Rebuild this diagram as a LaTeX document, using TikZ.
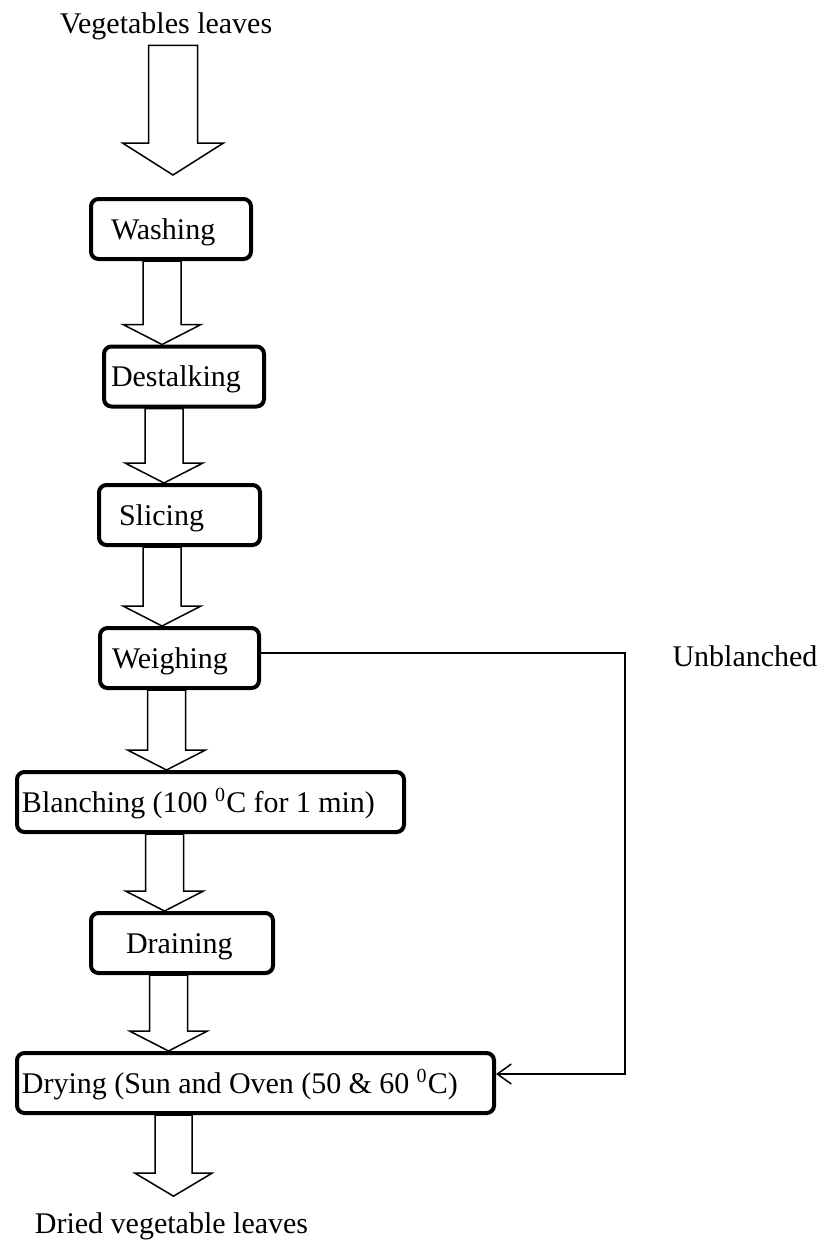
\documentclass[tikz,border=0pt,12pt]{standalone}
\usepackage{fontspec}
\setmainfont{Liberation Serif}
\usetikzlibrary{calc,arrows.meta}

% hollow block arrow: #1 top of shaft, #2 tip, #3 half shaft, #4 half head, #5 head length
\newcommand{\flow}[5]{%
  \draw[flowline] #2 coordinate (tip) -- ++(#4,-#5) -- ++({#3-#4},0) |- #1
    -- ++(-#3,0) |- ($(tip)+(-#3,-#5)$) -- ++({#3-#4},0) -- cycle;}

\begin{document}
\begin{tikzpicture}[x=0.4pt,y=-0.4pt,
		stepbox/.style={draw,line width=1.6pt,rounded corners=3pt,anchor=west,
		align=left,minimum height=24pt,text height=8pt,text depth=0pt},
		flowline/.style={line width=0.6pt,line join=miter},
		side/.style={line width=0.6pt,-{Straight Barb[length=5.6pt,width=8pt]}},
		]
		\useasboundingbox (0,0) rectangle (817,1241);

		\node[anchor=base] (veg) at (166,33) {Vegetables leaves};
		\node[stepbox,inner xsep=8pt,text width=48pt] (wash) at (89,229) {Washing};
		\node[stepbox,inner xsep=2.8pt,text width=58.4pt] (dest) at (102,376.5) {Destalking};
		\node[stepbox,inner xsep=8pt,text width=48.4pt] (slic) at (97,515) {Slicing};
		\node[stepbox,inner xsep=4.8pt,text width=54pt] (weig) at (98,658) {Weighing};
		\node[stepbox,inner xsep=2pt,text width=150.8pt] (blan) at (15,802)
			{\spaceskip=0.245em Blanching (100 \textsuperscript{0}C for 1 min)};
		\node[stepbox,inner xsep=14pt,text width=44.8pt] (drai) at (89,943) {Draining};
		\node[stepbox,inner xsep=2pt,text width=186.8pt] (dryi) at (15,1083)
			{\spaceskip=0.245em Drying (Sun and Oven (50 \& 60 \textsuperscript{0}C)};
		\node[anchor=base] (dried) at (171.5,1233) {Dried vegetable leaves};
		\node[anchor=base west] (unbl) at (662,666) {Unblanched};

		\flow{($(173,0 |- veg.south)+(0,-4.5)$)}{($(173,0 |- wash.north)+(0,-22)$)}{24.5}{50.5}{32}
		\flow{(162,0 |- wash.south)}{(162,0 |- dest.north)}{19}{39}{20}
		\flow{(164,0 |- dest.south)}{(164,0 |- slic.north)}{19}{39}{20}
		\flow{(162,0 |- slic.south)}{(162,0 |- weig.north)}{19}{39}{20}
		\flow{(166.5,0 |- weig.south)}{(166.5,0 |- blan.north)}{19}{39}{20}
		\flow{(164.5,0 |- blan.south)}{(164.5,0 |- drai.north)}{19}{39}{20}
		\flow{(168.5,0 |- drai.south)}{(168.5,0 |- dryi.north)}{19}{39}{20}
		\flow{(173.5,0 |- dryi.south)}{($(173.5,0 |- dried.north)+(0,-5.5)$)}{18.5}{38.5}{23}

		\coordinate (bend) at (625,1074);
		\draw[side] ([yshift=2pt]weig.east) -| (bend) -- (bend -| dryi.east);
\end{tikzpicture}
\end{document}
